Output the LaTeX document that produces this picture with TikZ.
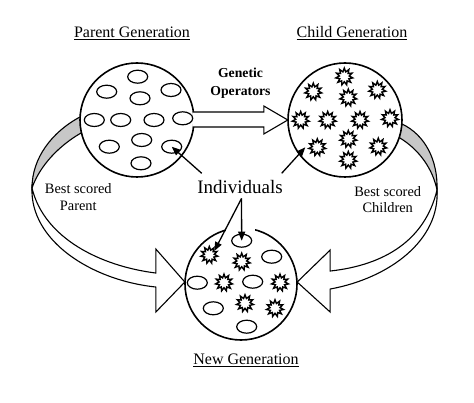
\documentclass[tikz,border=0pt]{standalone}
\usepackage{fontspec}
\setmainfont{Liberation Serif}
\usetikzlibrary{shapes.geometric,arrows.meta,calc}
\begin{document}
\begin{tikzpicture}[x=1pt,y=-1pt,
  gen/.style={circle,draw,line width=1.6pt,minimum size=114pt,inner sep=0},
  indiv/.style={ellipse,draw,line width=1.2pt,minimum width=20pt,minimum height=13pt,inner sep=0},
  kid/.style={star,star points=11,star point ratio=1.7,draw,line width=1.4pt,minimum size=17pt,inner sep=0},
  title/.style={font=\fontsize{16}{19}\selectfont,anchor=base,inner sep=0},
  lbl/.style={font=\fontsize{14.4}{16.5}\selectfont,align=center,inner sep=0},
  ptr/.style={-{Triangle[length=9pt,width=7pt]},line width=1.3pt},
  band/.style={draw,line width=1.1pt,fill=white,line join=miter},
  shade/.style={draw,line width=1.1pt,fill=black!22},
]
\useasboundingbox (0,0) rectangle (474,403);
\fill[white] (0,0) rectangle (474,403);

% generation circles (nodes only for anchors first)
\path (137,120) node[circle,minimum size=114pt,inner sep=0] (parent) {}
      (345,120) node[circle,minimum size=114pt,inner sep=0] (child) {}
      (241,284) node[circle,minimum size=112pt,inner sep=0] (new) {};

% left curved arrow: best scored parent
\path (parent.177) coordinate (la) (parent.193) coordinate (lb);
\coordinate (lt) at (32,188);
\coordinate (ltip) at (new.178);
\draw[shade] (la) .. controls (52,132) and (32,158) .. (lt) .. controls (40,165) and (60,145) .. (lb);
\draw[band] (lt) .. controls (44,238) and (100,266) .. ($(ltip)+(-29,-9)$) -- ($(ltip)+(-29,-33)$) -- (ltip)
  -- ($(ltip)+(-29,30)$) -- ($(ltip)+(-29,5)$) .. controls (90,280) and (30,240) .. (lt) -- cycle;

% right curved arrow: best scored children
\path (child.-4) coordinate (ra) (child.-18) coordinate (rb);
\coordinate (rt) at (437,190);
\coordinate (rtip) at (new.2);
\draw[shade] (ra) .. controls (425,135) and (438,160) .. (rt) .. controls (433,170) and (420,150) .. (rb);
\draw[band] (rt) .. controls (425,240) and (385,265) .. ($(rtip)+(33,-11)$) -- ($(rtip)+(33,-32)$) -- (rtip)
  -- ($(rtip)+(33,30)$) -- ($(rtip)+(33,7)$) .. controls (390,278) and (440,240) .. (rt) -- cycle;

% circles
\node[gen] at (parent.center) {};
\node[gen] at (child.center) {};
\node[gen,minimum size=112pt] at (new.center) {};
\fill[white] (226,224) rectangle (255,232.8);

% block arrow: genetic operators
\draw[band] ($(parent.east)+(-1.5,-8)$) -- ($(child.west)+(-24,-8)$) -- ($(child.west)+(-24,-14)$)
  -- (child.west) -- ($(child.west)+(-24,14)$) -- ($(child.west)+(-24,7)$) -- ($(parent.east)+(-1.5,7)$);

% parent individuals
\foreach \x/\y [count=\i] in {137.7/76.7,106.7/91.7,171/90,140/98.3,94.3/120,120.7/120,154/120,182.7/118.3,109.3/146.7,141.7/140,171.7/146.7,141/163.3}
  \node[indiv] (pe\i) at (\x,\y) {};
% child individuals
\foreach \x/\y [count=\i] in {344.3/76.7,313.3/91.7,348.3/97.7,377.3/90,300.7/120,327.7/120,360/120,390/118.3,317.3/147.3,348.3/139,378.3/146.7,348.3/160}
  \node[kid] (cs\i) at (\x,\y) {};
% new generation
\foreach \x/\y [count=\i] in {241.7/240.7,271.7/256.7,197.3/282.7,252.7/281.7,213.3/308.3,246.7/326.7}
  \node[indiv] (ne\i) at (\x,\y) {};
\foreach \x/\y [count=\i] in {209.3/255,241.7/261.7,224/282.7,280/282.7,245/303.3,275/308.3}
  \node[kid] (ns\i) at (\x,\y) {};

% texts
\node[title] (tparent) at (132,37.5) {\underline{Parent Generation}};
\node[title] (tchild) at (352,37.5) {\underline{Child Generation}};
\node[title] (tnew) at (246,365) {\underline{New Generation}};
\node[lbl,font=\bfseries\fontsize{13.7}{17.7}\selectfont] (ops) at (240.5,83) {Genetic\\Operators};
\node[font=\fontsize{19}{22}\selectfont,anchor=base,inner sep=0] (ind) at (240,193.3) {Individuals};
\node[lbl] (bsp) at (78.3,197) {Best scored\\Parent};
\node[lbl] (bsc) at (387.7,199.5) {Best scored\\Children};

% pointers
\coordinate (p1) at (201.7,173.3);
\coordinate (p2) at (281.7,173.3);
\coordinate (p3) at (241.5,198.5);
\draw[ptr] (p1) -- (pe11.center);
\draw[ptr] (p2) -- ([xshift=-12pt]cs9.center);
\draw[ptr] (p3) -- (ne1.center);
\draw[ptr] (p3) -- ([shift={(5,-4)}]ns1.center);
\end{tikzpicture}
\end{document}
